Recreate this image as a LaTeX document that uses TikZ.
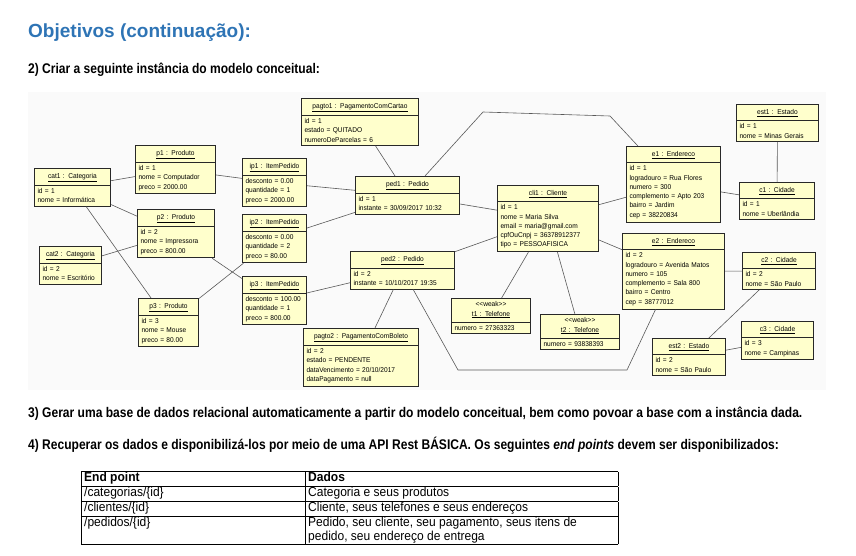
\documentclass[tikz,border=0pt]{standalone}
\usepackage{fontspec}
\setmainfont{Liberation Sans}
\newfontfamily\narrowfont{Liberation Sans}[FakeStretch=0.86]
\newfontfamily\tablefont{Liberation Sans}[FakeStretch=0.925]
\newfontfamily\umlfont{Liberation Sans}[FakeStretch=0.94]
\usetikzlibrary{shapes.multipart}
\definecolor{umlfill}{RGB}{255,255,204}
\definecolor{umlline}{RGB}{40,40,40}
\definecolor{titleblue}{RGB}{46,116,181}
\definecolor{diagbg}{RGB}{250,250,250}
\newcommand{\objname}[1]{\makebox[\hsize]{\strut\underline{#1}}}
\newcommand{\weak}{\makebox[\hsize]{<\kern0pt<weak>\kern0pt>}}
\tikzset{
  object/.style={rectangle split, rectangle split parts=2, draw=umlline, line width=1pt,
    fill=umlfill, anchor=north west, inner xsep=3pt, inner ysep=2.8pt,
    font=\umlfont\fontsize{7}{9.3}\selectfont},
  link/.style={draw=black!65, line width=0.6pt},
  heading/.style={anchor=base west, inner sep=0pt, font=\narrowfont\bfseries\fontsize{14}{16}\selectfont}
}

\begin{document}
\begin{tikzpicture}[x=1pt,y=-1pt]
  \useasboundingbox (0,0) rectangle (856,556);

  \node[anchor=base west, inner sep=0pt, text=titleblue, font=\bfseries\fontsize{19}{22}\selectfont] (title) at (28,38) {Objetivos (continuação):};
  \node[heading] (step2) at (28,74) {2) Criar a seguinte instância do modelo conceitual:};

  % instance diagram
  \fill[diagbg] (28,92) rectangle (826,390);

  \node[object, text width=70pt] (cat1) at (34,168) {\objname{cat1 : Categoria}\nodepart{two}id = 1\\nome = Informática};
  \node[object, text width=56pt] (cat2) at (39,246) {\objname{cat2 : Categoria}\nodepart{two}id = 2\\nome = Escritório};
  \node[object, text width=74pt] (p1) at (135,145) {\objname{p1 : Produto}\nodepart{two}id = 1\\nome = Computador\\preco = 2000.00};
  \node[object, text width=71pt] (p2) at (137,209) {\objname{p2 : Produto}\nodepart{two}id = 2\\nome = Impressora\\preco = 800.00};
  \node[object, text width=54pt] (p3) at (138,298) {\objname{p3 : Produto}\nodepart{two}id = 3\\nome = Mouse\\preco = 80.00};
  \node[object, text width=58pt] (ip1) at (242,158) {\objname{ip1 : ItemPedido}\nodepart{two}desconto = 0.00\\quantidade = 1\\preco = 2000.00};
  \node[object, text width=58pt] (ip2) at (242,214) {\objname{ip2 : ItemPedido}\nodepart{two}desconto = 0.00\\quantidade = 2\\preco = 80.00};
  \node[object, text width=58pt] (ip3) at (242,276) {\objname{ip3 : ItemPedido}\nodepart{two}desconto = 100.00\\quantidade = 1\\preco = 800.00};
  \node[object, text width=111pt] (pagto1) at (301,98) {\objname{pagto1 : PagamentoComCartao}\nodepart{two}id = 1\\estado = QUITADO\\numeroDeParcelas = 6};
  \node[object, text width=98pt] (ped1) at (355,176) {\objname{ped1 : Pedido}\nodepart{two}id = 1\\instante = 30/09/2017 10:32};
  \node[object, text width=98pt] (ped2) at (350,251) {\objname{ped2 : Pedido}\nodepart{two}id = 2\\instante = 10/10/2017 19:35};
  \node[object, text width=109pt] (pagto2) at (303,328) {\objname{pagto2 : PagamentoComBoleto}\nodepart{two}id = 2\\estado = PENDENTE\\dataVencimento = 20/10/2017\\dataPagamento = null};
  \node[object, text width=95pt] (cli1) at (497,185) {\objname{cli1 : Cliente}\nodepart{two}id = 1\\nome = Maria Silva\\email = maria@gmail.com\\cpfOuCnpj = 36378912377\\tipo = PESSOAFISICA};
  \node[object, text width=73pt] (t1) at (451,298) {\weak\\\objname{t1 : Telefone}\nodepart{two}numero = 27363323};
  \node[object, text width=73pt] (t2) at (540,314) {\weak\\\objname{t2 : Telefone}\nodepart{two}numero = 93838393};
  \node[object, text width=88pt] (e1) at (626,146) {\objname{e1 : Endereco}\nodepart{two}id = 1\\logradouro = Rua Flores\\numero = 300\\complemento = Apto 203\\bairro = Jardim\\cep = 38220834};
  \node[object, text width=96pt] (e2) at (622,233) {\objname{e2 : Endereco}\nodepart{two}id = 2\\logradouro = Avenida Matos\\numero = 105\\complemento = Sala 800\\bairro = Centro\\cep = 38777012};
  \node[object, text width=76pt] (est1) at (736,104) {\objname{est1 : Estado}\nodepart{two}id = 1\\nome = Minas Gerais};
  \node[object, text width=69pt] (c1) at (739,182) {\objname{c1 : Cidade}\nodepart{two}id = 1\\nome = Uberlândia};
  \node[object, text width=67pt] (c2) at (742,252) {\objname{c2 : Cidade}\nodepart{two}id = 2\\nome = São Paulo};
  \node[object, text width=66pt] (c3) at (741,321) {\objname{c3 : Cidade}\nodepart{two}id = 3\\nome = Campinas};
  \node[object, text width=67pt] (est2) at (652,338) {\objname{est2 : Estado}\nodepart{two}id = 2\\nome = São Paulo};

  % bends of the two long links
  \coordinate (k1) at (483,112);
  \coordinate (k2) at (610,116);
  \coordinate (k3) at (458,370);
  \coordinate (k4) at (627,370);

  \path[link] (cat1) -- (p1);
  \path[link] (cat1) -- (p2);
  \path[link] (cat1) -- (p3);
  \path[link] (cat2) -- (p2);
  \path[link] (p1) -- (ip1);
  \path[link] (p2) -- (ip3);
  \path[link] (p3) -- (ip2);
  \path[link] (ip1) -- (ped1);
  \path[link] (ip2) -- (ped1);
  \path[link] (ip3) -- (ped2);
  \path[link] (pagto1) -- (ped1);
  \path[link] (pagto2) -- (ped2);
  \path[link] (ped1) -- (cli1);
  \path[link] (ped2) -- (cli1);
  \path[link] (ped1) -- (k1) -- (k2) -- (e1);
  \path[link] (ped2) -- (k3) -- (k4) -- (e2);
  \path[link] (cli1) -- (t1);
  \path[link] (cli1) -- (t2);
  \path[link] (cli1) -- (e1);
  \path[link] (cli1) -- (e2);
  \path[link] (e1) -- (c1);
  \path[link] (est1) -- (c1);
  \path[link] (e2) -- (c2);
  \path[link] (c2) -- (est2);
  \path[link] (est2) -- (c3);

  \node[heading] (step3) at (28,417) {3) Gerar uma base de dados relacional automaticamente a partir do modelo conceitual, bem como povoar a base com a instância dada.};
  \node[heading] (step4) at (28,449) {4) Recuperar os dados e disponibilizá-los por meio de uma API Rest BÁSICA. Os seguintes \textit{end points} devem ser disponibilizados:};

  \node[anchor=north west, inner sep=0pt, font=\tablefont\fontsize{13}{14}\selectfont] (endpoints) at (81,471) {%
    \setlength\tabcolsep{3pt}\setlength\arrayrulewidth{0.8pt}%
    \begin{tabular}{|p{218pt}|p{307pt}|}
      \hline
      \textbf{End point} & \textbf{Dados}\\ \hline
      /categorias/\{id\} & Categoria e seus produtos\\ \hline
      /clientes/\{id\} & Cliente, seus telefones e seus endereços\\ \hline
      /pedidos/\{id\} & Pedido, seu cliente, seu pagamento, seus itens de\newline pedido, seu endereço de entrega\\ \hline
    \end{tabular}};
\end{tikzpicture}
\end{document}
